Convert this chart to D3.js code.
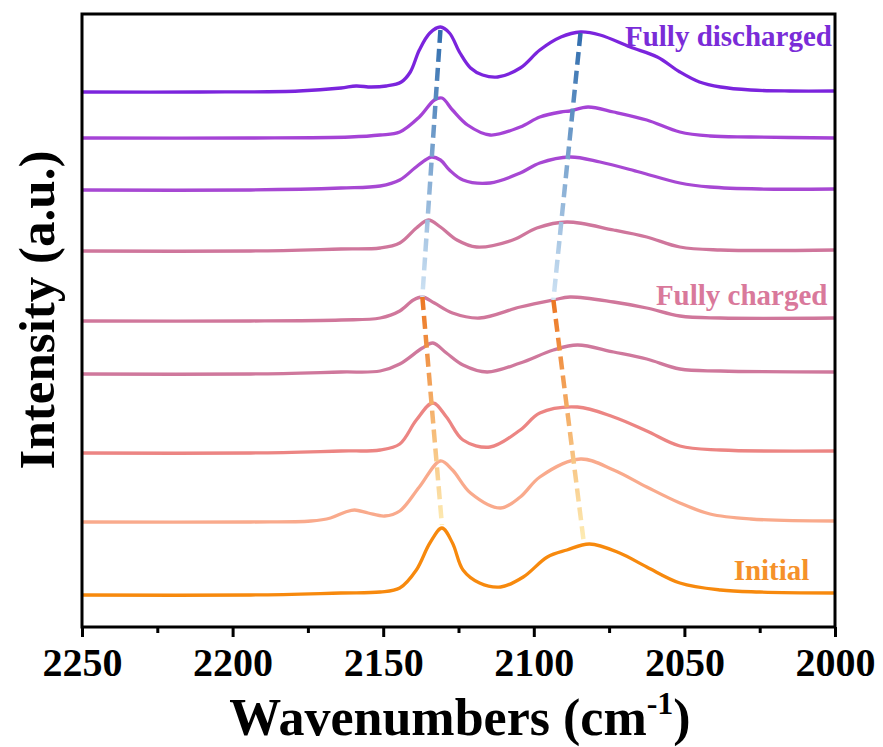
<!DOCTYPE html>
<html>
<head>
<meta charset="utf-8">
<title>Spectra</title>
<script src="https://d3js.org/d3.v7.min.js"></script>
<style>
  body { margin: 0; background: #fff; }
  text { font-family: "Liberation Serif", "Times New Roman", serif; font-weight: bold; }
</style>
</head>
<body>
<div id="chart"></div>
<script>
// wavenumber ticks
const majorTicks = [2250, 2200, 2150, 2100, 2050, 2000];
const minorTicks = [2225, 2175, 2125, 2075, 2025];

// vertical offset of each spectrum (a.u.), top to bottom
const offsets = [53.5, 48.9, 43.7, 37.6, 30.6, 25.3, 17.4, 10.5, 3.2];

// [wavenumber, relative intensity] for each spectrum, top (fully discharged) to bottom (initial)
const spectrum1 = [[2250,0],[2211,0],[2178,0.1],[2164,0.4],[2159,0.6],[2154,0.5],[2149,0.6],[2144,1.0],[2141,2.0],[2138,4.2],[2134.5,5.9],[2131,6.5],[2128,5.9],[2124.5,3.9],[2121,2.4],[2117,1.7],[2112,1.5],[2104.5,2.4],[2098,4.2],[2091,5.5],[2084.5,6.0],[2078,5.7],[2068,4.5],[2059,3.5],[2051.5,2.0],[2045,1.0],[2038,0.5],[2028,0.2],[2015,0.1],[2000,0.1]];
const spectrum2 = [[2250,0],[2194,0],[2161,0.1],[2151,0.3],[2144.5,0.6],[2138,2.1],[2133,3.8],[2130.5,4.0],[2127,2.8],[2122,1.3],[2114.5,0.3],[2104.5,1.1],[2098,2.1],[2091,2.6],[2088,2.7],[2082,3.1],[2073.5,2.6],[2062.5,1.8],[2051.5,0.6],[2041.5,0.2],[2028,0.1],[2000,0]];
const spectrum3 = [[2250,0],[2194,0],[2164,0.2],[2151,0.4],[2144.5,1.0],[2139.5,2.2],[2136,3.0],[2134,3.3],[2131,3.0],[2128,2.0],[2123.5,1.0],[2114.5,0.7],[2104.5,1.7],[2098,2.7],[2088,3.3],[2078,2.8],[2065,1.8],[2051.5,0.7],[2041.5,0.3],[2025,0.1],[2000,0.1]];
const spectrum4 = [[2250,0],[2194,0],[2164,0.2],[2151,0.3],[2144.5,0.8],[2139,2.3],[2135,3.1],[2131,2.4],[2125.5,1.1],[2119,0.4],[2107,1.1],[2099,2.3],[2089,2.9],[2073.5,2.1],[2062.5,1.4],[2051.5,0.4],[2038,0.1],[2000,0.1]];
const spectrum5 = [[2250,0],[2194,0],[2164,0.1],[2151,0.3],[2144.5,1.0],[2140,2.1],[2137,2.4],[2133,1.8],[2127,0.8],[2118,0.3],[2104.5,1.4],[2093.5,2.1],[2088,2.4],[2073.5,1.9],[2062.5,1.3],[2051.5,0.5],[2038,0.3],[2000,0.3]];
const spectrum6 = [[2250,0],[2194,0],[2164,0.2],[2151,0.3],[2144.5,1.0],[2137,2.6],[2133.5,3.1],[2129,2.1],[2123.5,0.9],[2115.5,0.2],[2104.5,1.1],[2093.5,2.4],[2085.5,2.9],[2073.5,2.2],[2062.5,1.5],[2051.5,0.5],[2038,0.3],[2000,0.2]];
const spectrum7 = [[2250,0],[2194,0],[2164,0.2],[2151,0.3],[2144.5,0.9],[2139,3.3],[2133.5,5.0],[2129,3.6],[2123.5,1.3],[2114.5,0.6],[2104.5,2.3],[2098,4.0],[2085.5,4.6],[2073.5,3.6],[2062.5,2.2],[2051.5,0.7],[2038,0.3],[2000,0.2]];
const spectrum8 = [[2250,0],[2194,0],[2174,0.1],[2167.5,0.4],[2162.5,1.0],[2159.5,1.2],[2155,0.9],[2149.5,0.6],[2144.5,1.1],[2138,3.5],[2131,6.1],[2127,5.2],[2121,2.9],[2111,1.4],[2104.5,2.5],[2098,4.5],[2084.5,6.3],[2073.5,5.2],[2062.5,3.5],[2051.5,1.9],[2041.5,0.8],[2028,0.3],[2000,0.1]];
const spectrum9 = [[2250,0],[2194,0],[2164,0.2],[2151,0.3],[2144.5,0.7],[2139,2.5],[2134.5,5.2],[2130.5,6.7],[2127,5.2],[2123.5,2.5],[2118,1.2],[2111,0.8],[2103.5,1.8],[2095.5,3.8],[2089,4.5],[2081.5,5.1],[2071.5,4.2],[2062.5,2.8],[2051.5,1.2],[2038,0.5],[2025,0.3],[2000,0.2]];
const spectra = [spectrum1, spectrum2, spectrum3, spectrum4, spectrum5, spectrum6, spectrum7, spectrum8, spectrum9];

// peak shift tracks [wavenumber, a.u.]: fully discharged -> fully charged -> initial
const peakTrackA = [[2131, 59.7], [2137, 33.0], [2130.5, 10.2]];
const peakTrackB = [[2084.5, 59.4], [2093.5, 32.7], [2083.5, 8.7]];

const stateLabels = [
  { text: "Fully discharged", w: 2001, y: 58.1, color: "#7a2cd8" },
  { text: "Fully charged", w: 2002.5, y: 32.2, color: "#d9799b" },
  { text: "Initial", w: 2008.5, y: 4.7, color: "#f5912a" }
];

const colors = ["#7b24dd", "#a543d6", "#a748d3", "#cf769c", "#d0779b", "#cf789c", "#ec8583", "#f9aa8c", "#f7890d"];

const width = 883, height = 747;
const margin = { top: 14, right: 48, bottom: 120, left: 82 };
const w = width - margin.left - margin.right;
const h = height - margin.top - margin.bottom;

const x = d3.scaleLinear().domain([2250, 2000]).range([0, w]);
const y = d3.scaleLinear().domain([0, 61.3]).range([h, 0]);

const svg = d3.select("#chart").append("svg")
  .attr("width", width)
  .attr("height", height);

const defs = svg.append("defs");
const g = svg.append("g")
  .attr("transform", "translate(" + margin.left + "," + margin.top + ")");

// spectra
const line = d3.line()
  .x(d => x(d[0]))
  .y(d => y(d[1]))
  .curve(d3.curveCatmullRom.alpha(0.5));

spectra.forEach((s, i) => {
  g.append("path")
    .datum(s.map(d => [d[0], d[1] + offsets[i]]))
    .attr("fill", "none")
    .attr("stroke", colors[i])
    .attr("stroke-width", 3.3)
    .attr("stroke-linejoin", "round")
    .attr("d", line);
});

// dashed peak tracks with colour fades
function dashed(p0, p1, id, c0, c1) {
  const grad = defs.append("linearGradient")
    .attr("id", id)
    .attr("gradientUnits", "userSpaceOnUse")
    .attr("x1", x(p0[0])).attr("y1", y(p0[1]))
    .attr("x2", x(p1[0])).attr("y2", y(p1[1]));
  grad.append("stop").attr("offset", "0%").attr("stop-color", c0);
  grad.append("stop").attr("offset", "100%").attr("stop-color", c1);
  g.append("line")
    .attr("x1", x(p0[0])).attr("y1", y(p0[1]))
    .attr("x2", x(p1[0])).attr("y2", y(p1[1]))
    .attr("stroke", "url(#" + id + ")")
    .attr("stroke-width", 4.5)
    .attr("stroke-dasharray", "13,6");
}
dashed(peakTrackA[0], peakTrackA[1], "blueA", "#2f6cad", "#cfe3f4");
dashed(peakTrackB[0], peakTrackB[1], "blueB", "#2f6cad", "#cfe3f4");
dashed(peakTrackA[1], peakTrackA[2], "orangeA", "#ec7623", "#fdecb4");
dashed(peakTrackB[1], peakTrackB[2], "orangeB", "#ec7623", "#fdecb4");

// state labels
g.selectAll(".state")
  .data(stateLabels)
  .enter().append("text")
  .attr("class", "state")
  .attr("x", d => x(d.w))
  .attr("y", d => y(d.y))
  .attr("text-anchor", "end")
  .style("font-size", "29px")
  .attr("fill", d => d.color)
  .text(d => d.text);

// minor ticks
g.append("g")
  .attr("transform", "translate(0," + h + ")")
  .call(d3.axisBottom(x).tickValues(minorTicks).tickSize(6).tickFormat(""))
  .call(a => a.select(".domain").remove())
  .call(a => a.selectAll("line").attr("stroke-width", 3));

// major ticks and labels
const xAxis = g.append("g")
  .attr("transform", "translate(0," + h + ")")
  .call(d3.axisBottom(x).tickValues(majorTicks).tickSize(10).tickPadding(11).tickFormat(d3.format("d")));
xAxis.select(".domain").remove();
xAxis.selectAll("line").attr("stroke-width", 3);
xAxis.selectAll("text")
  .style("font-size", "40px")
  .style("font-family", "'Liberation Serif', 'Times New Roman', serif")
  .style("font-weight", "bold")
  .attr("fill", "#000");

// frame
g.append("rect")
  .attr("width", w)
  .attr("height", h)
  .attr("fill", "none")
  .attr("stroke", "#000")
  .attr("stroke-width", 3);

// axis titles
const xt = svg.append("text")
  .attr("x", 460)
  .attr("y", 735)
  .attr("text-anchor", "middle")
  .style("font-size", "52px");
xt.append("tspan").text("Wavenumbers (cm");
xt.append("tspan").attr("dy", -21).style("font-size", "32px").text("-1");
xt.append("tspan").attr("dy", 21).text(")");

svg.append("text")
  .attr("transform", "translate(54,310) rotate(-90)")
  .attr("text-anchor", "middle")
  .style("font-size", "51px")
  .text("Intensity (a.u.)");
</script>
</body>
</html>
